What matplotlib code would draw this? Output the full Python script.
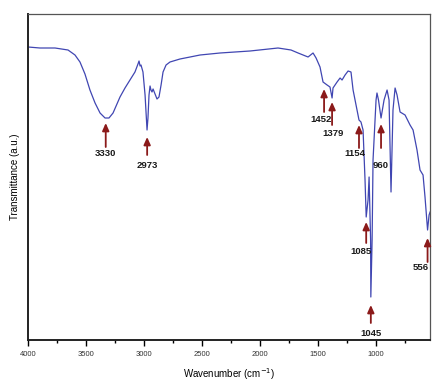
import matplotlib
matplotlib.use("Agg")
import matplotlib.pyplot as plt

plt.rcParams['font.family'] = ['Liberation Sans', 'DejaVu Sans']

# Spectrum trace (wavenumber cm^-1, transmittance a.u.)
wavenumber = [4000, 3897, 3767, 3655, 3595, 3552, 3509, 3466, 3422, 3379, 3336, 3302,
              3267, 3207, 3164, 3121, 3078, 3052, 3043, 3034, 3026, 3009, 2991, 2974,
              2966, 2957, 2948, 2940, 2931, 2922, 2905, 2888, 2871, 2853, 2836, 2810,
              2776, 2690, 2603, 2517, 2431, 2345, 2216, 2086, 1845, 1733, 1672, 1586,
              1543, 1517, 1483, 1457, 1422, 1397, 1379, 1371, 1336, 1310, 1293, 1267,
              1241, 1216, 1198, 1164, 1147, 1130, 1112, 1095, 1085, 1069, 1060, 1047,
              1045, 1034, 1026, 1000, 992, 979, 957, 931, 905, 888, 871, 854, 836, 819,
              793, 750, 707, 681, 647, 621, 595, 578, 556, 543, 534]
transmittance = [293, 292, 292, 290, 285, 278, 266, 250, 237, 227, 222, 222,
                 227, 243, 252, 260, 268, 276, 279, 274, 275, 268, 245, 210,
                 222, 245, 254, 250, 248, 251, 246, 241, 243, 255, 268, 275,
                 278, 281, 283, 285, 286, 287, 288, 289, 292, 290, 287, 283,
                 287, 282, 273, 258, 255, 253, 242, 252, 258, 262, 260, 265,
                 269, 268, 250, 230, 220, 218, 210, 160, 123, 140, 163, 100,
                 43, 100, 180, 240, 247, 240, 222, 240, 250, 240, 148, 230, 252, 245,
                 228, 225, 215, 210, 190, 170, 165, 143, 110, 125, 128]

# Peak annotations: label, arrow x, label x, label y, arrow start y, arrow end y
peak_labels = ["3330", "2973", "1452", "1379", "1154", "960", "1085", "1045", "556"]
arrow_x = [3330, 2973, 1448, 1379, 1147, 957, 1085, 1045, 556]
label_x = [3332, 2974, 1474, 1371, 1181, 957, 1130, 1043, 612]
label_y = [187, 174, 220, 207, 186, 175, 88, 6, 73]
arrow_y0 = [193, 185, 228, 215, 192, 192, 97, 17, 78]
arrow_y1 = [217, 203, 251, 238, 215, 216, 118, 35, 102]

xticks = [4000, 3500, 3000, 2500, 2000, 1500, 1000]

fig = plt.figure(figsize=(4.37, 3.86), dpi=100)
ax = fig.add_axes([28/437, 46/386, 402/437, 326/386])

ax.plot(wavenumber, transmittance, color='#4046b2', lw=0.9)

arrow_col = '#8b1a1a'
for lab, ax_x, lx, ly, y0, y1 in zip(peak_labels, arrow_x, label_x, label_y, arrow_y0, arrow_y1):
    ax.annotate('', xy=(ax_x, y1), xytext=(ax_x, y0),
                arrowprops=dict(arrowstyle='-|>,head_length=0.45,head_width=0.2',
                                color=arrow_col, lw=1.3, shrinkA=0, shrinkB=0))
    ax.text(lx, ly, lab, ha='center', va='center', fontsize=6.8,
            fontweight='bold', color='#1a1a1a')

ax.set_xlim(4000, 535)
ax.set_ylim(0, 326)
ax.set_xticks(xticks)
ax.set_xticks([3750, 3250, 2750, 2250, 1750, 1250, 750], minor=True)
ax.set_xticklabels([str(t) for t in xticks], fontsize=5.5, color='#333333')
ax.tick_params(axis='x', which='major', direction='out', length=4, width=1, pad=4)
ax.tick_params(axis='x', which='minor', direction='out', length=2, width=1)
ax.set_yticks([])

for s in ['left', 'bottom']:
    ax.spines[s].set_linewidth(1.4)
    ax.spines[s].set_color('#222222')
for s in ['top', 'right']:
    ax.spines[s].set_linewidth(0.9)
    ax.spines[s].set_color('#555555')

ax.set_xlabel('Wavenumber (cm$^{-1}$)', fontsize=7, labelpad=6)
ax.set_ylabel('Transmittance (a.u.)', fontsize=7, labelpad=6)

fig.savefig('out.png', dpi=100)
